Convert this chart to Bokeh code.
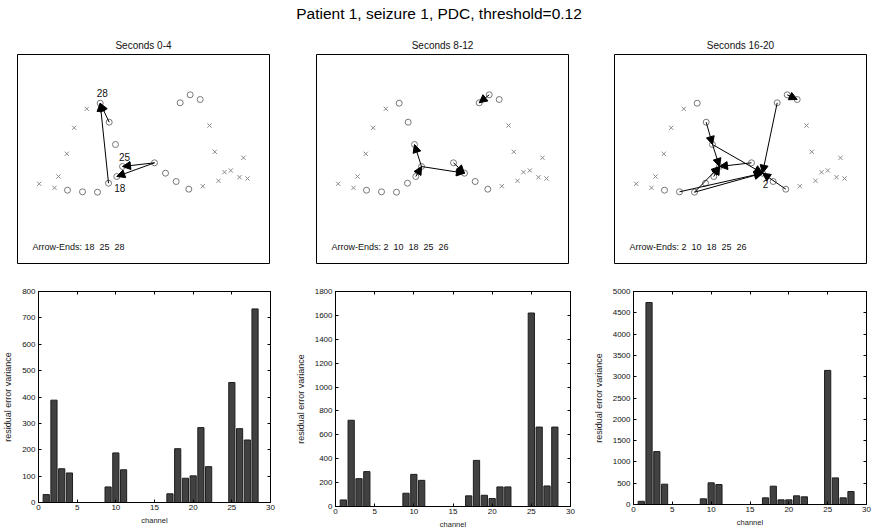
from bokeh.plotting import figure
from bokeh.layouts import row, column
from bokeh.models import (ColumnDataSource, Range1d, Arrow, NormalHead, Label, Title,
                          LinearAxis, FixedTicker)
from bokeh.core.properties import value
from bokeh.embed import file_html
from bokeh.resources import INLINE

FONT = "Liberation Sans"
NB = "\u00a0"

MAIN_TITLE = "Patient 1, seizure 1, PDC, threshold=0.12"
WINDOW_TITLES = ["Seconds 0-4", "Seconds 8-12", "Seconds 16-20"]
ARROW_ENDS = [["18", "25", "28"],
              ["2", "10", "18", "25", "26"],
              ["2", "10", "18", "25", "26"]]

# electrode map (map units, y grows downward)
CIRC_X = [82.7, 91.7, 98.0, 105.0, 99.3, 91.0, 80.0, 65.0, 50.0,
          137.0, 148.0, 158.7, 171.3, 162.7, 172.7, 182.7]
CIRC_Y = [48.7, 67.7, 90.0, 112.0, 122.0, 128.7, 137.7, 137.3, 135.7,
          108.3, 118.7, 127.0, 134.7, 48.3, 40.3, 45.0]
CROSS_X = [69.3, 56.7, 49.3, 41.0, 21.7, 37.0, 192.0, 197.3, 226.0,
           207.0, 213.3, 222.0, 230.0, 201.0, 185.3]
CROSS_Y = [54.3, 73.3, 99.3, 122.0, 129.3, 133.3, 71.0, 97.3, 103.3,
           117.7, 116.0, 122.7, 124.0, 126.3, 131.7]

# directed connections (from electrode index, to electrode index)
ARROWS = [
    [(5, 0), (1, 0), (9, 3), (9, 4)],
    [(3, 2), (3, 10), (9, 10), (4, 3), (14, 13)],
    [(1, 2), (2, 10), (2, 3), (13, 10), (12, 10), (9, 3), (7, 10),
     (6, 10), (6, 3), (4, 3), (14, 15)],
]
# channel labels: (electrode index, text, side)
LABELS = [
    [(0, "28", "above"), (3, "25", "above"), (4, "18", "below")],
    [],
    [(10, "2", "below")],
]

CHANNELS = list(range(1, 29))
VAR_0_4 = [30, 388, 128, 112, 0, 0, 0, 0, 59, 188, 124, 0, 0, 0, 0, 0,
           33, 204, 92, 101, 284, 136, 0, 0, 455, 280, 237, 734]
VAR_8_12 = [55, 722, 233, 292, 0, 0, 0, 0, 111, 269, 219, 0, 0, 0, 0, 0,
            89, 386, 94, 67, 164, 164, 0, 0, 1620, 665, 172, 665]
VAR_16_20 = [75, 4742, 1242, 477, 0, 0, 0, 0, 133, 508, 469, 0, 0, 0, 0, 0,
             156, 430, 109, 109, 203, 180, 0, 0, 3148, 625, 156, 305]
X_TICKS = [0, 5, 10, 15, 20, 25, 30]
Y_TICKS = [
    [0, 100, 200, 300, 400, 500, 600, 700, 800],
    [0, 200, 400, 600, 800, 1000, 1200, 1400, 1600, 1800],
    [0, 500, 1000, 1500, 2000, 2500, 3000, 3500, 4000, 4500, 5000],
]
X_LABEL = "channel"
Y_LABEL = "residual error variance"

MAP_W, MAP_H = 252, 209
TITLE_H = 28


def title_strip():
    p = figure(frame_width=872, frame_height=TITLE_H,
               x_range=Range1d(0, 872), y_range=Range1d(TITLE_H, 0),
               x_axis_location=None, y_axis_location=None,
               output_backend="svg", toolbar_location=None,
               min_border_left=0, min_border_right=0,
               min_border_top=0, min_border_bottom=0)
    p.grid.grid_line_color = None
    p.outline_line_color = None
    p.text(x=[438.5], y=[13], text=[MAIN_TITLE], text_font=value(FONT),
           text_font_size="15.5px", text_color="#000000",
           text_align="center", text_baseline="middle")
    return p


def map_panel(k, left, right):
    p = figure(frame_width=MAP_W, frame_height=MAP_H,
               x_range=Range1d(0, MAP_W), y_range=Range1d(MAP_H, 0),
               x_axis_location=None, y_axis_location=None,
               output_backend="svg", toolbar_location=None,
               min_border_left=left, min_border_right=right,
               min_border_top=54 - TITLE_H, min_border_bottom=7)
    p.grid.grid_line_color = None
    p.outline_line_color = "black"
    p.outline_line_width = 1
    p.background_fill_color = "white"
    p.border_fill_color = "white"

    p.scatter(CROSS_X, CROSS_Y, marker="x", size=6, line_color="#8a8a8a", line_width=1)
    p.scatter(CIRC_X, CIRC_Y, marker="circle", size=6, fill_color=None,
              line_color="#777777", line_width=1)

    arr = ARROWS[k]
    src = ColumnDataSource(dict(
        x0=[CIRC_X[a] for a, b in arr], y0=[CIRC_Y[a] for a, b in arr],
        x1=[CIRC_X[b] for a, b in arr], y1=[CIRC_Y[b] for a, b in arr]))
    p.add_layout(Arrow(end=NormalHead(size=8, fill_color="black", line_color="black", line_width=1),
                       x_start="x0", y_start="y0", x_end="x1", y_end="y1",
                       source=src, line_color="black", line_width=1))

    labs = LABELS[k]
    if labs:
        ls = ColumnDataSource(dict(
            x=[CIRC_X[i] for i, t, s in labs], y=[CIRC_Y[i] for i, t, s in labs],
            t=[t for i, t, s in labs],
            dy=[-10 if s == "above" else 11 for i, t, s in labs],
            dx=[2 if s == "above" else 3 for i, t, s in labs]))
        p.text(x="x", y="y", text="t", x_offset="dx", y_offset="dy", source=ls,
               text_font=value(FONT), text_font_size="10px", text_color="#111111",
               text_align="center", text_baseline="middle")

    txt = "Arrow-Ends: " + (" " + NB).join(ARROW_ENDS[k])
    p.add_layout(Label(x=15, y=192.7, text=txt, text_font=FONT,
                       text_font_size="9px", text_color="#111111",
                       text_baseline="middle", text_align="left"))

    p.add_layout(Title(text=WINDOW_TITLES[k], align="center", text_font=FONT,
                       text_font_size="10px", text_font_style="normal",
                       text_color="#111111", standoff=8), "above")
    return p


def bar_panel(k, vals, left, fw, right, top):
    fh = 502 - 270 - top
    p = figure(frame_width=fw, frame_height=fh,
               x_range=Range1d(0, 30), y_range=Range1d(0, Y_TICKS[k][-1]),
               output_backend="svg", toolbar_location=None,
               min_border_left=left, min_border_right=right,
               min_border_top=top, min_border_bottom=27)
    p.grid.grid_line_color = None
    p.outline_line_color = "black"
    chans = [c for c, v in zip(CHANNELS, vals) if v > 0]
    vs = [v for v in vals if v > 0]
    p.vbar(x=chans, top=vs, bottom=0, width=0.8, fill_color="#414141",
           line_color="#1e1e1e", line_width=1)

    p.xaxis.ticker = FixedTicker(ticks=X_TICKS)
    p.yaxis.ticker = FixedTicker(ticks=Y_TICKS[k])
    p.xaxis.axis_label = X_LABEL
    p.yaxis.axis_label = Y_LABEL
    for ax in (p.xaxis[0], p.yaxis[0]):
        ax.major_tick_in = 3
        ax.major_tick_out = 0
        ax.minor_tick_line_color = None
        ax.major_label_text_font = FONT
        ax.major_label_text_font_size = "8px"
        ax.major_label_text_color = "#111111"
        ax.axis_label_text_font = FONT
        ax.axis_label_text_font_style = "normal"
        ax.axis_label_text_color = "#222222"
    p.xaxis.axis_label_text_font_size = "7.5px"
    p.yaxis.axis_label_text_font_size = "9px"
    p.xaxis.major_label_standoff = 2
    p.xaxis.axis_label_standoff = 3
    p.yaxis.major_label_standoff = 3
    p.yaxis.axis_label_standoff = 6

    for loc, tk in (("above", X_TICKS), ("right", Y_TICKS[k])):
        p.add_layout(LinearAxis(ticker=FixedTicker(ticks=tk), major_tick_in=3, major_tick_out=0,
                                minor_tick_line_color=None, major_label_text_font_size="1px",
                                major_label_text_color=None, major_label_standoff=0), loc)
    return p


head = title_strip()
t1 = map_panel(0, 17, 23)
t2 = map_panel(1, 24, 22)
t3 = map_panel(2, 24, 6)

b1 = bar_panel(0, VAR_0_4, 36, 232, 22, 21)
b2 = bar_panel(1, VAR_8_12, 42, 235, 13, 17)
b3 = bar_panel(2, VAR_16_20, 50, 233, 9, 19)

layout = column(head, row(t1, t2, t3), row(b1, b2, b3))
open("out.html", "w").write(file_html(layout, INLINE))
